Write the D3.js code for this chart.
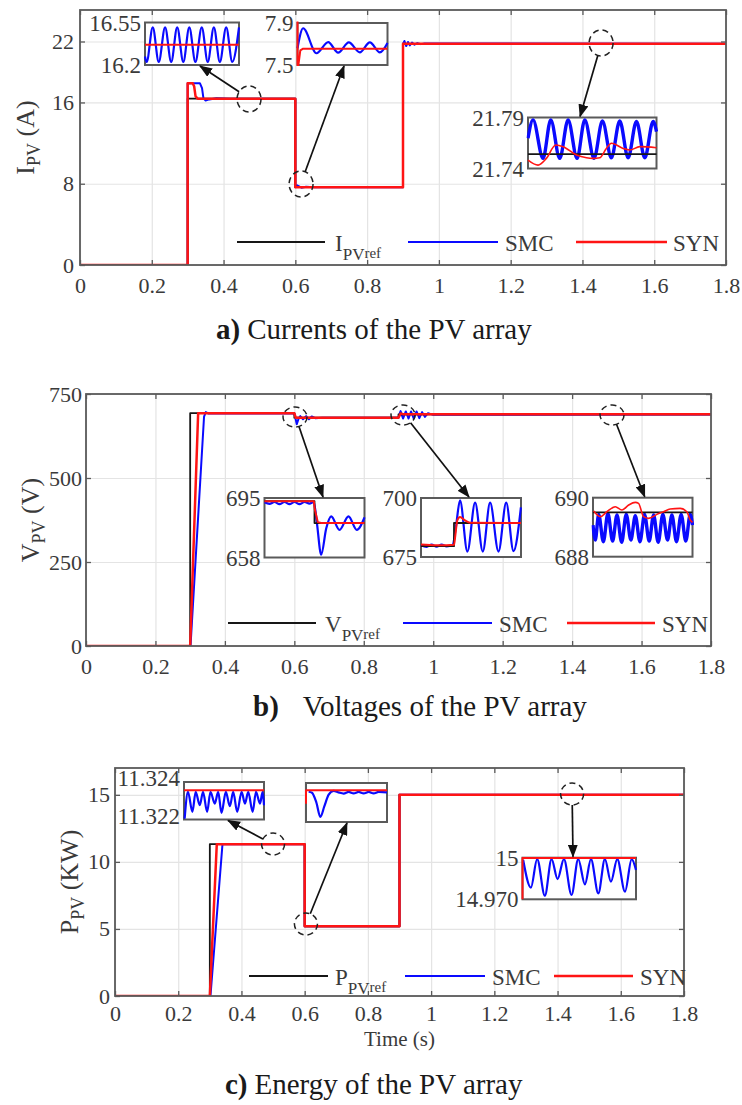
<!DOCTYPE html>
<html>
<head>
<meta charset="utf-8">
<script src="https://cdn.jsdelivr.net/npm/d3@7"></script>
<style>
  body { margin: 0; background: #fff; }
  svg text { font-family: "Liberation Serif", "Times New Roman", serif; }
</style>
</head>
<body>
<svg id="fig" width="742" height="1105"></svg>
<script>
// ---------------- data ----------------
const timeTicks = [0, 0.2, 0.4, 0.6, 0.8, 1, 1.2, 1.4, 1.6, 1.8];
const currentTicks = [0, 8, 16, 22];
const voltageTicks = [0, 250, 500, 750];
const powerTicks = [0, 5, 10, 15];

// PV current (A) vs time (s)
const currentRef = [[0,0],[0.3,0],[0.3,16.37],[0.6,16.37],[0.6,7.66],[0.9,7.66],[0.9,21.77],[1.8,21.77]];
const currentSMC = [[0,0],[0.3,0],[0.3,17.9],[0.334,17.9],[0.34,17.4],[0.344,16.4],[0.35,16.2],[0.36,16.3],[0.38,16.42],[0.42,16.37],[0.6,16.37],[0.6,7.66],[0.605,7.85],[0.617,7.61],[0.63,7.71],[0.65,7.66],[0.9,7.66],[0.9,21.77],[0.904,22.05],[0.909,21.55],[0.914,21.95],[0.919,21.62],[0.925,21.9],[0.932,21.68],[0.94,21.84],[0.95,21.74],[0.96,21.8],[1.8,21.78]];
const currentSYN = [[0,0],[0.3,0],[0.3,17.9],[0.314,17.9],[0.318,17.6],[0.322,16.6],[0.328,16.37],[0.6,16.37],[0.6,7.66],[0.9,7.66],[0.9,21.77],[1.8,21.77]];

// PV voltage (V) vs time (s)
const voltageRef = [[0,0],[0.3,0],[0.3,693],[0.6,693],[0.6,679.4],[0.9,679.4],[0.9,689.4],[1.8,689.4]];
const voltageSMC = [[0,0],[0.301,0],[0.34,683],[0.345,696],[0.352,692],[0.6,692],[0.602,684],[0.607,660],[0.612,676],[0.617,684],[0.625,675],[0.634,684],[0.642,675],[0.65,683],[0.66,678],[0.68,679.5],[0.9,680],[0.902,688],[0.906,699],[0.913,677],[0.921,698],[0.929,677],[0.936,698],[0.944,677],[0.952,698],[0.96,678],[0.968,696],[0.976,682],[0.985,693],[1.0,688],[1.8,689]];
const voltageSYN = [[0,0],[0.3,0],[0.323,693],[0.6,693],[0.604,679.4],[0.9,679.4],[0.906,692],[0.916,689.4],[1.8,689.4]];

// PV power (kW) vs time (s)
const powerRef = [[0,0],[0.3,0],[0.3,11.32],[0.6,11.32],[0.6,5.2],[0.9,5.2],[0.9,15],[1.8,15]];
const powerSMC = [[0,0],[0.302,0],[0.34,11.32],[0.6,11.32],[0.6,5.2],[0.9,5.2],[0.9,15],[1.8,15]];
const powerSYN = [[0,0],[0.3,0],[0.322,11.32],[0.6,11.32],[0.6,5.2],[0.9,5.2],[0.9,15],[1.8,15]];

// zoomed windows: current
const zoomI1SMC = [[0.4400,16.27],[0.4414,16.225],[0.4466,16.51],[0.4517,16.225],[0.4571,16.51],[0.4623,16.225],[0.4674,16.51],[0.4726,16.225],[0.4777,16.51],[0.4829,16.225],[0.4883,16.51],[0.4934,16.225],[0.4986,16.51],[0.5037,16.225],[0.5091,16.51],[0.5143,16.225],[0.5200,16.51]];
const zoomI1SYN = [[0.44,16.366],[0.52,16.366]];
const zoomI2SMC = [[0.600,7.66],[0.605,7.85],[0.6169,7.612],[0.6273,7.718],[0.6361,7.618],[0.6456,7.715],[0.6554,7.62],[0.6643,7.715],[0.6732,7.62],[0.680,7.71]];
const zoomI2SYN = [[0.6,7.95],[0.6,7.5],[0.6008,7.5],[0.6025,7.64],[0.605,7.655],[0.68,7.655]];
const zoomI3SMC = [[1.4000,21.7696],[1.4039,21.7877],[1.4117,21.7499],[1.4177,21.7877],[1.4247,21.7499],[1.4312,21.7877],[1.4382,21.7499],[1.4442,21.7877],[1.4514,21.7499],[1.4579,21.7867],[1.4649,21.7505],[1.4714,21.7867],[1.4779,21.7505],[1.4844,21.7861],[1.4909,21.7505],[1.4974,21.7861],[1.5000,21.7762]];
const zoomI3Ref = [[1.4,21.7541],[1.5,21.7541]];
const zoomI3SYN = [[1.4000,21.7482],[1.4078,21.7433],[1.4143,21.7499],[1.4216,21.7630],[1.4273,21.7614],[1.4377,21.7532],[1.4455,21.7505],[1.4506,21.7499],[1.4558,21.7505],[1.4610,21.7597],[1.4649,21.7647],[1.4740,21.7597],[1.4792,21.7581],[1.4870,21.7614],[1.5000,21.7604]];

// zoomed windows: voltage
const zoomV1SMC = [[0.55,692.3],[0.555,691.3],[0.56,692.5],[0.565,691.2],[0.57,692.5],[0.575,691.2],[0.58,692.5],[0.585,691.2],[0.59,692.5],[0.595,691.5],[0.5993,692.5],[0.6023,680],[0.6067,659.7],[0.6117,676],[0.6167,683.6],[0.625,675.2],[0.634,683.6],[0.6423,675.2],[0.65,683]];
const zoomV1Ref = [[0.55,693],[0.6,693],[0.6,679.4],[0.65,679.4]];
const zoomV1SYN = [[0.55,693],[0.5993,693],[0.6003,688],[0.6033,680],[0.6067,679.4],[0.65,679.4]];
const zoomV2SMC = [[0.8669,680.0],[0.8726,679.3],[0.8776,680.3],[0.8826,679.4],[0.8876,680.3],[0.8926,679.5],[0.8987,680.2],[0.9020,688],[0.9060,699],[0.9134,677.3],[0.9211,698],[0.9288,677.3],[0.9361,698],[0.9445,677.3],[0.9522,698],[0.9595,677.5],[0.9669,696]];
const zoomV2Ref = [[0.867,679.6],[0.9,679.6],[0.9,689.4],[0.967,689.4]];
const zoomV2SYN = [[0.867,680.3],[0.8826,680.0],[0.8926,680.0],[0.9,680.2],[0.9013,684],[0.9033,690.5],[0.906,691.9],[0.911,690.5],[0.916,689.5],[0.967,689.4]];
const zoomV3SMC = [[1.4500,689.07],[1.4523,688.565],[1.4557,689.435],[1.4604,688.508],[1.4650,689.469],[1.4697,688.531],[1.4741,689.412],[1.4788,688.486],[1.4834,689.435],[1.4881,688.565],[1.4925,689.39],[1.4972,688.508],[1.5018,689.435],[1.5065,688.531],[1.5109,689.412],[1.5155,688.486],[1.5202,689.435],[1.5249,688.565],[1.5293,689.412],[1.5339,688.508],[1.5386,689.435],[1.5433,688.531],[1.5477,689.435],[1.5500,689.07]];
const zoomV3Ref = [[1.45,689.5],[1.55,689.5]];
const zoomV3SYN = [[1.4507,689.548],[1.4574,689.356],[1.4640,689.525],[1.4724,689.695],[1.4791,689.582],[1.4858,689.751],[1.4925,689.842],[1.4958,689.808],[1.5008,689.356],[1.5059,689.299],[1.5142,689.435],[1.5209,689.525],[1.5276,689.616],[1.5376,689.638],[1.5443,689.525],[1.5477,689.243],[1.5500,689.164]];

// zoomed windows: power
const zoomP1SMC = [[0.4508,11.32205],[0.4550,11.32347],[0.4605,11.32241],[0.4646,11.32347],[0.4697,11.32276],[0.4738,11.32347],[0.4789,11.32241],[0.4831,11.32347],[0.4885,11.32285],[0.4927,11.32347],[0.4969,11.32235],[0.5023,11.32347],[0.5073,11.32271],[0.5115,11.32347],[0.5165,11.32241],[0.5220,11.32347],[0.5262,11.32285],[0.5303,11.32347],[0.5358,11.32241],[0.5400,11.32347],[0.5450,11.32285],[0.5483,11.32347],[0.5500,11.32276]];
const zoomP1SYN = [[0.45,11.32356],[0.55,11.32356]];
const zoomP2SMC = [[0.6033,5.2055],[0.6074,5.2050],[0.6128,5.2000],[0.6177,5.1926],[0.6226,5.1980],[0.6280,5.2040],[0.6342,5.2060],[0.6403,5.2052],[0.6465,5.2046],[0.6527,5.2054],[0.6588,5.2047],[0.6650,5.2054],[0.6712,5.2047],[0.6774,5.2054],[0.6835,5.2047],[0.6897,5.2054],[0.7000,5.2052]];
const zoomP2SYN = [[0.6,5.1994],[0.6,5.2063],[0.7,5.2063]];
const zoomP3SMC = [[1.4006,14.9983],[1.4074,14.9784],[1.4129,14.9990],[1.4197,14.9726],[1.4256,14.9990],[1.4309,14.9846],[1.4365,14.9990],[1.4432,14.9731],[1.4491,14.9990],[1.4550,14.9808],[1.4603,14.9990],[1.4668,14.9743],[1.4726,14.9990],[1.4779,14.9827],[1.4835,14.9990],[1.4903,14.9755],[1.4962,14.9990],[1.5000,14.9911]];
const zoomP3SYN = [[1.4,14.97],[1.4,14.9998],[1.5,14.9998]];

const seriesNames = { ref: "ref", smc: "SMC", syn: "SYN" };

// ---------------- styles ----------------
const COLORS = { ref: "#161616", smc: "#0a0aff", syn: "#ff1414" };
const MAIN_WIDTH = { ref: 1.8, smc: 2.0, syn: 2.5 };
const TEXT = "#3a3a3a";
const FRAME = "#5a5a5a";

const svg = d3.select("#fig");
const defs = svg.append("defs");
defs.append("marker")
  .attr("id", "arrowhead")
  .attr("markerUnits", "userSpaceOnUse")
  .attr("markerWidth", 13).attr("markerHeight", 10)
  .attr("refX", 12).attr("refY", 5)
  .attr("orient", "auto")
  .append("path").attr("d", "M0,0 L13,5 L0,10 Z").attr("fill", "#111");

// ---------------- layout ----------------
const panels = [
  {
    key: "I", left: 80, right: 726, top: 10, bottom: 265, yDomain: [0, 25.1], yTicks: currentTicks,
    series: { smc: currentSMC, ref: currentRef, syn: currentSYN },
    yLabel: { sym: "I", unit: " (A)", x: 34 },
    xPad: 12, yPad: 6,
    legendY: 242,
    legend: [{ key: "ref", x1: 237, x2: 325, tx: 335 }, { key: "smc", x1: 408, x2: 498, tx: 505 }, { key: "syn", x1: 576, x2: 667, tx: 673 }],
    insets: [
      { x: 145, y: 22.5, w: 94, h: 42.5, t: [0.44, 0.52], v: [16.2, 16.55], labels: ["16.55", "16.2"],
        series: { smc: zoomI1SMC, syn: zoomI1SYN }, mark: { at: [0.471, 16.34], rx: 12, ry: 13 }, arrow: { frac: 0.585, edge: "bottom" } },
      { x: 297.5, y: 23, w: 90, h: 42, t: [0.6, 0.68], v: [7.5, 7.9], labels: ["7.9", "7.5"],
        series: { smc: zoomI2SMC, syn: zoomI2SYN }, linear: ["syn"], mark: { at: [0.616, 7.97], rx: 12, ry: 13 }, arrow: { frac: 0.517, edge: "bottom" } },
      { x: 528, y: 117.5, w: 128.5, h: 51, t: [1.4, 1.5], v: [21.74, 21.79], labels: ["21.79", "21.74"], thick: true,
        series: { smc: zoomI3SMC, ref: zoomI3Ref, syn: zoomI3SYN }, mark: { at: [1.452, 21.85], rx: 12, ry: 13 }, arrow: { frac: 0.405, edge: "top" } }
    ],
    caption: { label: "a)", text: "Currents of the PV array", x: 216, y: 339, gap: 7 }
  },
  {
    key: "V", left: 86, right: 711, top: 394, bottom: 646, yDomain: [0, 750], yTicks: voltageTicks,
    series: { smc: voltageSMC, ref: voltageRef, syn: voltageSYN },
    yLabel: { sym: "V", unit: " (V)", x: 39 },
    xPad: 12, yPad: 4,
    legendY: 623,
    legend: [{ key: "ref", x1: 228, x2: 316, tx: 325 }, { key: "smc", x1: 403, x2: 492, tx: 499 }, { key: "syn", x1: 567, x2: 655, tx: 662 }],
    insets: [
      { x: 264.5, y: 498, w: 100, h: 59.5, t: [0.55, 0.65], v: [658, 695], labels: ["695", "658"],
        series: { smc: zoomV1SMC, ref: zoomV1Ref, syn: zoomV1SYN }, linear: ["ref", "syn"], mark: { at: [0.602, 681.5], rx: 12, ry: 10 }, arrow: { frac: 0.585, edge: "top" } },
      { x: 421, y: 498, w: 100, h: 59, t: [0.867, 0.967], v: [675, 700], labels: ["700", "675"],
        series: { smc: zoomV2SMC, ref: zoomV2Ref, syn: zoomV2SYN }, linear: ["ref"], mark: { at: [0.913, 687.5], rx: 12, ry: 10 }, arrow: { frac: 0.48, edge: "top" } },
      { x: 593, y: 497.7, w: 99.5, h: 59, t: [1.45, 1.55], v: [688, 690], labels: ["690", "688"], thick: true,
        series: { smc: zoomV3SMC, ref: zoomV3Ref, syn: zoomV3SYN }, mark: { at: [1.515, 687.5], rx: 12, ry: 10 }, arrow: { frac: 0.52, edge: "top" } }
    ],
    caption: { label: "b)", text: "Voltages of the PV array", x: 253, y: 716, gap: 24 }
  },
  {
    key: "P", left: 115, right: 684, top: 768, bottom: 996, yDomain: [0, 17], yTicks: powerTicks,
    series: { smc: powerSMC, ref: powerRef, syn: powerSYN },
    yLabel: { sym: "P", unit: " (KW)", x: 78 },
    xPad: 9, yPad: 5,
    xTitle: { text: "Time (s)", y: 1046 },
    legendY: 976,
    legend: [{ key: "ref", x1: 249, x2: 328, tx: 335 }, { key: "smc", x1: 405, x2: 485, tx: 492 }, { key: "syn", x1: 554, x2: 633, tx: 640 }],
    insets: [
      { x: 184, y: 782, w: 80, h: 37.5, t: [0.45, 0.55], v: [11.322, 11.324], labels: ["11.324", "11.322"], labelShift: -4,
        series: { smc: zoomP1SMC, syn: zoomP1SYN }, mark: { at: [0.5, 11.33], rx: 11.5, ry: 11 }, arrow: { frac: 0.55, edge: "bottom" } },
      { x: 306, y: 783, w: 81, h: 39, t: [0.6, 0.7], v: [5.19, 5.21], labels: ["", ""],
        series: { smc: zoomP2SMC, syn: zoomP2SYN }, linear: ["syn"], mark: { at: [0.604, 5.37], rx: 11.5, ry: 11 }, arrow: { frac: 0.506, edge: "bottom" } },
      { x: 522.5, y: 857.7, w: 113.5, h: 41.6, t: [1.4, 1.5], v: [14.97, 15], labels: ["15", "14.970"],
        series: { smc: zoomP3SMC, syn: zoomP3SYN }, linear: ["syn"], mark: { at: [1.446, 15.06], rx: 11.5, ry: 11 }, arrow: { frac: 0.445, edge: "top" } }
    ],
    caption: { label: "c)", text: "Energy of the PV array", x: 225, y: 1094, gap: 7 }
  }
];

const drawOrder = ["smc", "ref", "syn"];
let clipCount = 0;
function addClip(x, y, w, h) {
  const id = "clip" + (clipCount++);
  defs.append("clipPath").attr("id", id).append("rect")
    .attr("x", x).attr("y", y).attr("width", w).attr("height", h);
  return `url(#${id})`;
}

function styleAxisText(sel, size) {
  sel.attr("font-family", null).attr("font-size", size);
  sel.selectAll("text").attr("fill", TEXT);
  sel.selectAll(".tick line").attr("stroke", FRAME).attr("stroke-width", 1.3);
  sel.select(".domain").remove();
}

function drawPanel(p) {
  const g = svg.append("g");
  const w = p.right - p.left, h = p.bottom - p.top;
  const x = d3.scaleLinear().domain([0, 1.8]).range([p.left, p.right]);
  const y = d3.scaleLinear().domain(p.yDomain).range([p.bottom, p.top]);

  g.append("rect").attr("x", p.left).attr("y", p.top).attr("width", w).attr("height", h).attr("fill", "#fff");

  // grid
  g.append("g").attr("transform", `translate(0,${p.bottom})`)
    .call(d3.axisBottom(x).tickValues(timeTicks).tickSize(-h).tickFormat(""))
    .call(s => { s.select(".domain").remove(); s.selectAll("line").attr("stroke", "#e4e4e4").attr("stroke-width", 1.2); });
  g.append("g").attr("transform", `translate(${p.left},0)`)
    .call(d3.axisLeft(y).tickValues(p.yTicks).tickSize(-w).tickFormat(""))
    .call(s => { s.select(".domain").remove(); s.selectAll("line").attr("stroke", "#e4e4e4").attr("stroke-width", 1.2); });

  // series
  const clip = addClip(p.left, p.top, w, h);
  const line = d3.line().x(d => x(d[0])).y(d => y(d[1]));
  drawOrder.forEach(k => {
    g.append("path").attr("d", line(p.series[k])).attr("fill", "none")
      .attr("stroke", COLORS[k]).attr("stroke-width", MAIN_WIDTH[k])
      .attr("stroke-linejoin", "round").attr("clip-path", clip);
  });

  // axes with inward ticks on all four sides
  g.append("g").attr("transform", `translate(0,${p.bottom})`)
    .call(d3.axisBottom(x).tickValues(timeTicks).tickSizeInner(-5).tickSizeOuter(0).tickPadding(p.xPad).tickFormat(d3.format("~g")))
    .call(s => styleAxisText(s, 22));
  g.append("g").attr("transform", `translate(0,${p.top})`)
    .call(d3.axisTop(x).tickValues(timeTicks).tickSizeInner(-5).tickSizeOuter(0).tickFormat(""))
    .call(s => styleAxisText(s, 22));
  g.append("g").attr("transform", `translate(${p.left},0)`)
    .call(d3.axisLeft(y).tickValues(p.yTicks).tickSizeInner(-5).tickSizeOuter(0).tickPadding(p.yPad).tickFormat(d3.format("~g")))
    .call(s => styleAxisText(s, 22));
  g.append("g").attr("transform", `translate(${p.right},0)`)
    .call(d3.axisRight(y).tickValues(p.yTicks).tickSizeInner(-5).tickSizeOuter(0).tickFormat(""))
    .call(s => styleAxisText(s, 22));

  g.append("rect").attr("x", p.left).attr("y", p.top).attr("width", w).attr("height", h)
    .attr("fill", "none").attr("stroke", FRAME).attr("stroke-width", 1.8);

  // y label with subscript
  const yl = g.append("text")
    .attr("transform", `translate(${p.yLabel.x},${(p.top + p.bottom) / 2}) rotate(-90)`)
    .attr("text-anchor", "middle").attr("font-size", 26).attr("fill", TEXT);
  yl.append("tspan").text(p.yLabel.sym);
  yl.append("tspan").attr("font-size", 18).attr("dy", 6).text("PV");
  yl.append("tspan").attr("dy", -6).text(p.yLabel.unit);

  if (p.xTitle) {
    g.append("text").attr("x", (p.left + p.right) / 2).attr("y", p.xTitle.y)
      .attr("text-anchor", "middle").attr("font-size", 21).attr("fill", TEXT).text(p.xTitle.text);
  }

  // legend
  p.legend.forEach(it => {
    g.append("line").attr("x1", it.x1).attr("x2", it.x2).attr("y1", p.legendY).attr("y2", p.legendY)
      .attr("stroke", COLORS[it.key]).attr("stroke-width", it.key === "syn" ? 2.4 : 2.2);
    const t = g.append("text").attr("x", it.tx).attr("y", p.legendY + 9).attr("font-size", 23).attr("fill", TEXT);
    if (it.key === "ref") {
      t.append("tspan").text(p.yLabel.sym);
      t.append("tspan").attr("font-size", 17).attr("dy", 9).text("PV");
      t.append("tspan").attr("font-size", 15).attr("dy", -2).text(seriesNames.ref);
    } else {
      t.text(seriesNames[it.key]);
    }
  });

  // zoom windows, markers and arrows
  p.insets.forEach(ins => {
    const xi = d3.scaleLinear().domain(ins.t).range([ins.x, ins.x + ins.w]);
    const yi = d3.scaleLinear().domain(ins.v).range([ins.y + ins.h, ins.y]);
    g.append("rect").attr("x", ins.x).attr("y", ins.y).attr("width", ins.w).attr("height", ins.h)
      .attr("fill", "#fff").attr("stroke", FRAME).attr("stroke-width", 2);
    const c = addClip(ins.x - 1.5, ins.y - 1.5, ins.w + 3, ins.h + 3);
    drawOrder.forEach(k => {
      if (!ins.series[k]) return;
      const isLinear = ins.linear && ins.linear.includes(k);
      const ln = d3.line().x(d => xi(d[0])).y(d => yi(d[1])).curve(isLinear ? d3.curveLinear : d3.curveMonotoneX);
      let sw = k === "smc" ? 2.2 : (k === "syn" ? 2.0 : 1.8);
      if (ins.thick && k === "smc") sw = 3.4;
      if (ins.thick && k === "syn") sw = 1.6;
      g.append("path").attr("d", ln(ins.series[k])).attr("fill", "none")
        .attr("stroke", COLORS[k]).attr("stroke-width", sw).attr("stroke-linejoin", "round")
        .attr("clip-path", c);
    });
    const shift = ins.labelShift || 0;
    g.append("text").attr("x", ins.x - 4).attr("y", ins.y + 8 + shift).attr("text-anchor", "end")
      .attr("font-size", 23).attr("fill", TEXT).text(ins.labels[0]);
    g.append("text").attr("x", ins.x - 4).attr("y", ins.y + ins.h + 8 + shift).attr("text-anchor", "end")
      .attr("font-size", 23).attr("fill", TEXT).text(ins.labels[1]);

    // dashed marker around the zoomed region
    const cx = x(ins.mark.at[0]), cy = y(ins.mark.at[1]);
    g.append("ellipse").attr("cx", cx).attr("cy", cy).attr("rx", ins.mark.rx).attr("ry", ins.mark.ry)
      .attr("fill", "none").attr("stroke", "#222").attr("stroke-width", 1.5).attr("stroke-dasharray", "6,4");
    const tx = ins.x + ins.w * ins.arrow.frac;
    const ty = ins.arrow.edge === "top" ? ins.y - 1 : ins.y + ins.h + 1;
    const ang = Math.atan2(ty - cy, tx - cx);
    const sx = cx + ins.mark.rx * Math.cos(ang), sy = cy + ins.mark.ry * Math.sin(ang);
    g.append("line").attr("x1", sx).attr("y1", sy).attr("x2", tx).attr("y2", ty)
      .attr("stroke", "#111").attr("stroke-width", 1.7).attr("marker-end", "url(#arrowhead)");
  });

  // caption
  const cap = svg.append("text").attr("x", p.caption.x).attr("y", p.caption.y)
    .attr("font-size", 29).attr("fill", "#1a1a1a");
  cap.append("tspan").attr("font-weight", "bold").text(p.caption.label);
  cap.append("tspan").attr("dx", p.caption.gap).text(p.caption.text);
}

panels.forEach(drawPanel);
</script>
</body>
</html>
